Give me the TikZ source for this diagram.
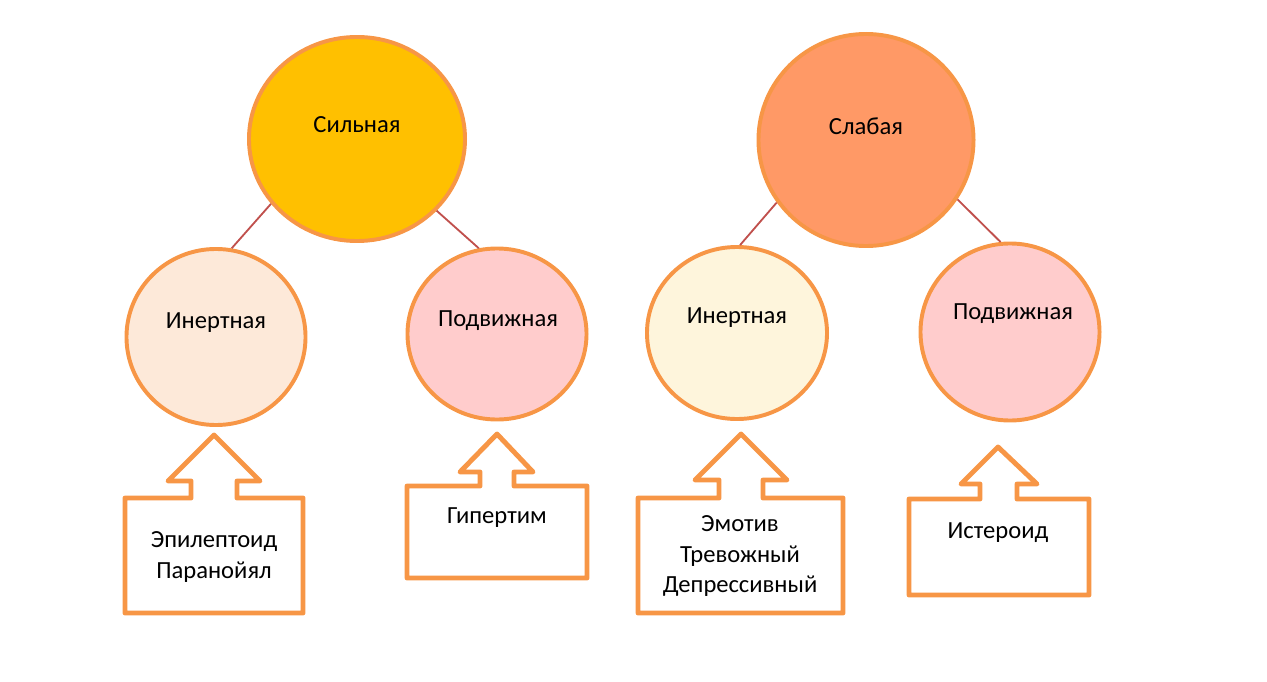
\documentclass[tikz,border=0pt]{standalone}
\usepackage{fontspec}
\setmainfont{Carlito}
\usepackage{tikz}
\usetikzlibrary{shapes.geometric}
\usepackage{xcolor}
\definecolor{ringor}{RGB}{247,150,70}
\definecolor{strongfill}{RGB}{255,192,0}
\definecolor{weakfill}{RGB}{255,153,102}
\definecolor{inertfill}{RGB}{253,233,217}
\definecolor{inertfillb}{RGB}{254,245,220}
\definecolor{mobilefill}{RGB}{255,204,204}
\definecolor{linkred}{RGB}{192,80,77}

\begin{document}
\begin{tikzpicture}[
    x=0.025cm, y=-0.025cm,
    type/.style={ellipse, draw=ringor, line width=2.8pt, inner sep=0pt},
    word/.style={font=\fontsize{17.5}{21.6}\selectfont, align=center, inner sep=1pt},
    callout/.style={draw=ringor, line width=3.5pt, line join=round, fill=white},
    link/.style={draw=linkred, line width=1.3pt}
]
    \useasboundingbox (0,0) rectangle (1267,682);

    % верхний уровень
    \node[type, fill=strongfill, minimum width=5.4cm, minimum height=5.1cm] (strong) at (357,139) {};
    \node[type, fill=weakfill, minimum width=5.375cm, minimum height=5.3cm] (weak) at (866,140) {};
    \node[word] (strongT) at (357,125) {Сильная};
    \node[word] (weakT) at (866,126) {Слабая};

    % нижний уровень
    \node[type, fill=inertfill, minimum width=4.475cm, minimum height=4.4cm] (inertA) at (216,337) {};
    \node[type, fill=mobilefill, minimum width=4.475cm, minimum height=4.275cm] (mobileA) at (497,334) {};
    \node[type, fill=inertfillb, minimum width=4.5cm, minimum height=4.3cm] (inertB) at (737,333) {};
    \node[type, fill=mobilefill, minimum width=4.475cm, minimum height=4.425cm] (mobileB) at (1010,332) {};
    \node[word] (inertAT) at (216,323) {Инертная};
    \node[word] (mobileAT) at (498,321) {Подвижная};
    \node[word] (inertBT) at (737,318) {Инертная};
    \node[word] (mobileBT) at (1013,314) {Подвижная};

    % связи
    \draw[link] (strong.217) -- (inertA.80);
    \draw[link] (strong.318) -- (mobileA.102);
    \draw[link] (weak.215) -- (inertB.88);
    \draw[link] (weak.327) -- (mobileB.96);

    % выноски со стрелкой вверх
    \draw[callout] (191,498) -- (125,498) -- (125,613) -- (303,613) -- (303,498) -- (237,498)
        -- (237,481) -- (260,481) -- (214,435) -- (168,481) -- (191,481) -- cycle;
    \draw[callout] (480,486) -- (407,486) -- (407,578) -- (587,578) -- (587,486) -- (514,486)
        -- (514,472) -- (533,472) -- (497,434) -- (460,472) -- (480,472) -- cycle;
    \draw[callout] (719,498) -- (638,498) -- (638,613) -- (843,613) -- (843,498) -- (763,498)
        -- (763,480) -- (787,480) -- (741,434) -- (695,480) -- (719,480) -- cycle;
    \draw[callout] (980,499) -- (909,499) -- (909,595) -- (1089,595) -- (1089,499) -- (1017,499)
        -- (1017,484) -- (1037,484) -- (998,447) -- (961,484) -- (980,484) -- cycle;

    \node[word] (epil) at (214,557) {Эпилептоид\\Паранойял};
    \node[word] (hyper) at (497,518) {Гипертим};
    \node[word] (emot) at (740,556) {Эмотив\\Тревожный\\Депрессивный};
    \node[word] (hyst) at (998,533) {Истероид};
\end{tikzpicture}
\end{document}
